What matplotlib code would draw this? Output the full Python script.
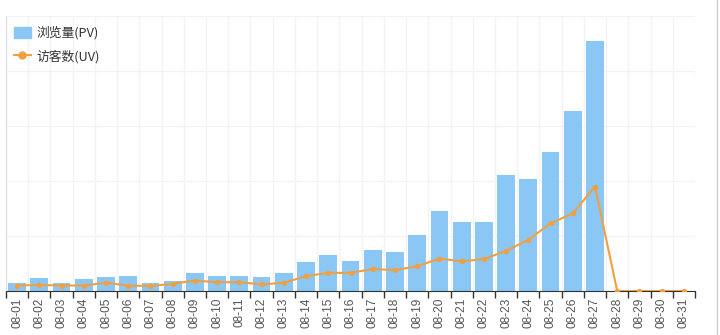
import matplotlib
matplotlib.use('Agg')
import matplotlib.pyplot as plt
from matplotlib.lines import Line2D
from matplotlib.patches import FancyBboxPatch
import numpy as np

plt.rcParams['font.family'] = ['Noto Sans CJK SC', 'DejaVu Sans']

# 日期
days = ['08-%02d' % d for d in range(1, 32)]
# 浏览量(PV)
pv = [15, 24, 15, 21, 26, 28, 15, 19, 33, 28, 28, 26, 33, 53, 66, 55,
      75, 71, 101, 145, 125, 125, 211, 204, 253, 327, 455, 0, 0, 0, 0]
# 访客数(UV)
uv = [10, 11, 10, 10, 15, 10, 9, 13, 19, 16, 16, 12, 15, 27, 33, 33,
      40, 38, 45, 59, 54, 58, 73, 93, 123, 141, 190, 0, 0, 0, 0]

bar_color = '#8ac7f5'
line_color = '#f0a040'

fig = plt.figure(figsize=(7.2, 3.35), dpi=100)
ax = fig.add_axes([6 / 720, 44 / 335, 689 / 720, 275 / 335])

x = np.arange(len(days))
ax.bar(x, pv, width=0.8, color=bar_color, zorder=2)
ax.plot(x, uv, color=line_color, linewidth=1.5, marker='o', markersize=2.8,
        zorder=3)

ax.set_xlim(-0.5, len(days) - 0.5)
ax.set_ylim(0, 500)

# 网格
ax.set_yticks(np.arange(0, 501, 100))
ax.set_yticklabels([])
ax.tick_params(axis='y', length=0)
ax.set_xticks(x)
ax.set_xticklabels(days, rotation=90, fontsize=8.6, color='#555555',
                   family=['Liberation Sans', 'DejaVu Sans'])
ax.set_xticks(np.arange(-0.5, len(days)), minor=True)
ax.tick_params(axis='x', which='major', length=0, pad=5)
ax.tick_params(axis='x', which='minor', length=5, width=1, color='#333333')
ax.grid(axis='y', which='major', color='#f3f3f6', linewidth=1, zorder=0)
ax.grid(axis='x', which='minor', color='#f3f3f6', linewidth=1, zorder=0)

for s in ['top', 'right']:
    ax.spines[s].set_visible(False)
ax.spines['left'].set_color('#dddddd')
ax.spines['bottom'].set_color('#333333')

# 图例
handles = [
    FancyBboxPatch((0, 0), 1, 1, boxstyle='round,pad=0.1', color=bar_color),
    Line2D([], [], color=line_color, marker='o', markersize=5, linewidth=1.5),
]
ax.legend(handles, ['浏览量(PV)', '访客数(UV)'], loc='upper left',
          bbox_to_anchor=(0.0, 0.99), frameon=False, fontsize=9.2,
          handlelength=1.35, handleheight=1.0, handletextpad=0.45,
          labelspacing=0.75, labelcolor='#333333', borderaxespad=0.2)

# 右侧边框
fig.add_artist(Line2D([717 / 720, 717 / 720], [0, 1], color='#cccccc',
                      linewidth=1))

fig.savefig('out.png', dpi=100, facecolor='white')
